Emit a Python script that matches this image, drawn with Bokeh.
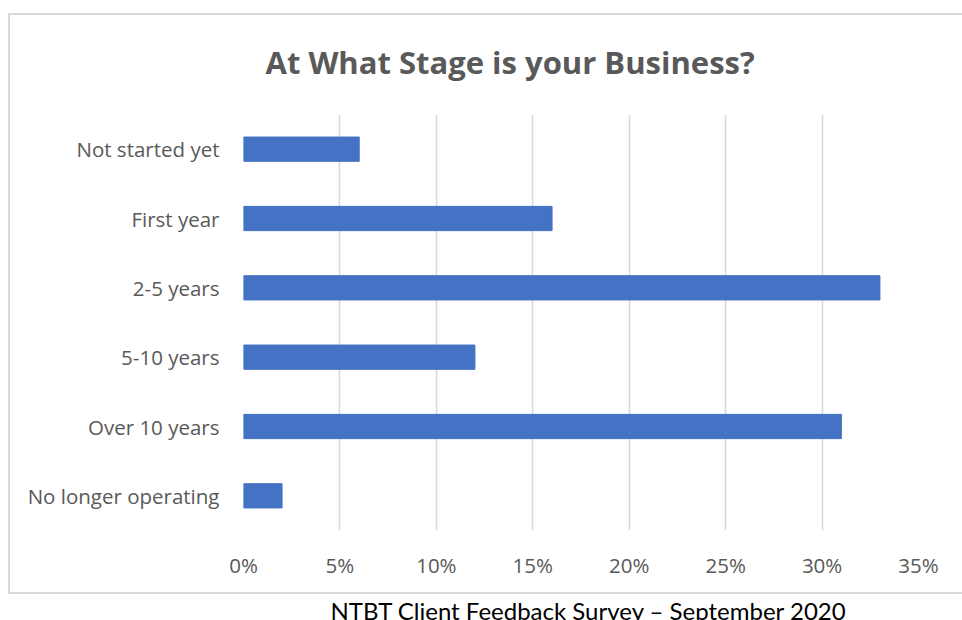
from bokeh.plotting import figure
from bokeh.models import FactorRange, NumeralTickFormatter, FixedTicker, Title, ColumnDataSource
from bokeh.embed import file_html
from bokeh.resources import INLINE

categories = ["Not started yet", "First year", "2-5 years", "5-10 years", "Over 10 years", "No longer operating"]
shares = [0.06, 0.16, 0.33, 0.12, 0.31, 0.02]
tick_values = [0, 0.05, 0.10, 0.15, 0.20, 0.25, 0.30, 0.35]

FONT = "Open Sans"
src = ColumnDataSource(dict(cat=categories, val=shares))

p = figure(y_range=FactorRange(factors=list(reversed(categories)), range_padding=0),
           x_range=(0, 0.35), frame_width=675, frame_height=416,
           min_border_left=243, min_border_right=44, min_border_top=114, min_border_bottom=89,
           output_backend="svg", toolbar_location=None)
p.hbar(y="cat", right="val", left=0, height=0.35, source=src, color="#4472C4")

p.title.text = "At What Stage is your Business?"
p.title.text_font = FONT
p.title.text_font_size = "31px"
p.title.text_font_style = "bold"
p.title.text_color = "#595959"
p.title.align = "left"
p.title.offset = 22
p.title.standoff = 64

p.xaxis.ticker = FixedTicker(ticks=tick_values)
p.xaxis.formatter = NumeralTickFormatter(format="0%")
for ax in (p.xaxis, p.yaxis):
    ax.axis_line_color = None
    ax.major_tick_line_color = None
    ax.minor_tick_line_color = None
    ax.major_tick_out = 0
    ax.major_tick_in = 0
    ax.major_label_text_font = FONT
    ax.major_label_text_font_size = "20.5px"
    ax.major_label_text_color = "#595959"
p.yaxis.major_label_standoff = 24
p.xaxis.major_label_standoff = 20

p.xgrid.grid_line_color = "#d9d9d9"
p.xgrid.grid_line_width = 1.5
p.ygrid.grid_line_color = None
p.outline_line_color = None
p.background_fill_color = "white"
p.border_fill_alpha = 0

# light grey chart-area border (left, top, bottom edges; right edge lies beyond the window)
g = "linear-gradient(#d9d9d9, #d9d9d9)"
p.styles = {
    "background-image": ", ".join([g, g, g]),
    "background-repeat": "no-repeat, no-repeat, no-repeat",
    "background-size": "2px 581px, 1200px 2px, 1200px 2px",
    "background-position": "8px 13px, 8px 13px, 8px 592px",
}

footer = Title(text="NTBT Client Feedback Survey \u2013 September 2020", align="left", offset=87,
               text_font="Lato", text_font_size="24px", text_font_style="normal", text_color="#000000",
               standoff=24)
p.add_layout(footer, "below")

open("out.html", "w").write(file_html(p, INLINE))
